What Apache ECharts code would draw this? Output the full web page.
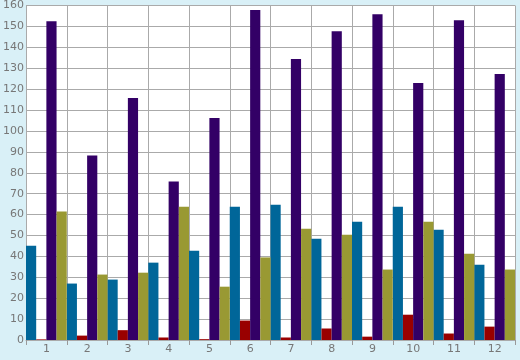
<!DOCTYPE html>
<html>
<head>
<meta charset="utf-8">
<script src="https://cdn.jsdelivr.net/npm/echarts@6/dist/echarts.min.js"></script>
<style>html,body{margin:0;padding:0;background:#d9f0f7;}#c{width:520px;height:360px;}</style>
</head>
<body>
<div id="c"></div>
<script>
var categories = ['1','2','3','4','5','6','7','8','9','10','11','12'];
var seriesBlue   = [45.1, 27.0, 28.9, 37.0, 42.7, 63.7, 64.7, 48.4, 56.6, 63.7, 52.7, 36.0];
var seriesRed    = [0.3, 2.1, 4.7, 1.2, 0.4, 9.3, 1.2, 5.5, 1.6, 12.1, 3.1, 6.4];
var seriesPurple = [152.5, 88.2, 115.7, 75.8, 106.2, 157.8, 134.4, 147.7, 155.8, 122.9, 153.0, 127.2];
var seriesOlive  = [61.5, 31.3, 32.2, 63.7, 25.5, 39.5, 53.2, 50.4, 33.7, 56.6, 41.3, 33.7];
var colors = ['#006699', '#990000', '#330066', '#999933'];

var chart = echarts.init(document.getElementById('c'), null, {renderer: 'canvas'});
var textStyle = {color: '#777', fontFamily: 'DejaVu Sans', fontSize: 11};
function bar(data, i) {
  return {type: 'bar', data: data, barGap: '0%', barCategoryGap: '0%',
    itemStyle: {color: colors[i]}, animation: false};
}
chart.setOption({
  backgroundColor: '#d9f0f7',
  animation: false,
  grid: {left: 26, right: 5, top: 5, bottom: 20, backgroundColor: '#fff', show: true, borderWidth: 0},
  xAxis: {
    type: 'category', data: categories, boundaryGap: true,
    axisLine: {show: true, lineStyle: {color: '#aaa', width: 1}},
    axisTick: {show: true, length: 5, lineStyle: {color: '#999'}},
    axisLabel: Object.assign({margin: 4}, textStyle),
    splitLine: {show: true, lineStyle: {color: '#aaa', width: 1}}
  },
  yAxis: {
    type: 'value', min: 0, max: 160, interval: 10,
    axisLine: {show: true, lineStyle: {color: '#aaa', width: 1}},
    axisTick: {show: false},
    axisLabel: Object.assign({margin: 2}, textStyle),
    splitLine: {show: true, lineStyle: {color: '#aaa', width: 1}}
  },
  series: [bar(seriesBlue, 0), bar(seriesRed, 1), bar(seriesPurple, 2), bar(seriesOlive, 3)]
});
</script>
</body>
</html>
